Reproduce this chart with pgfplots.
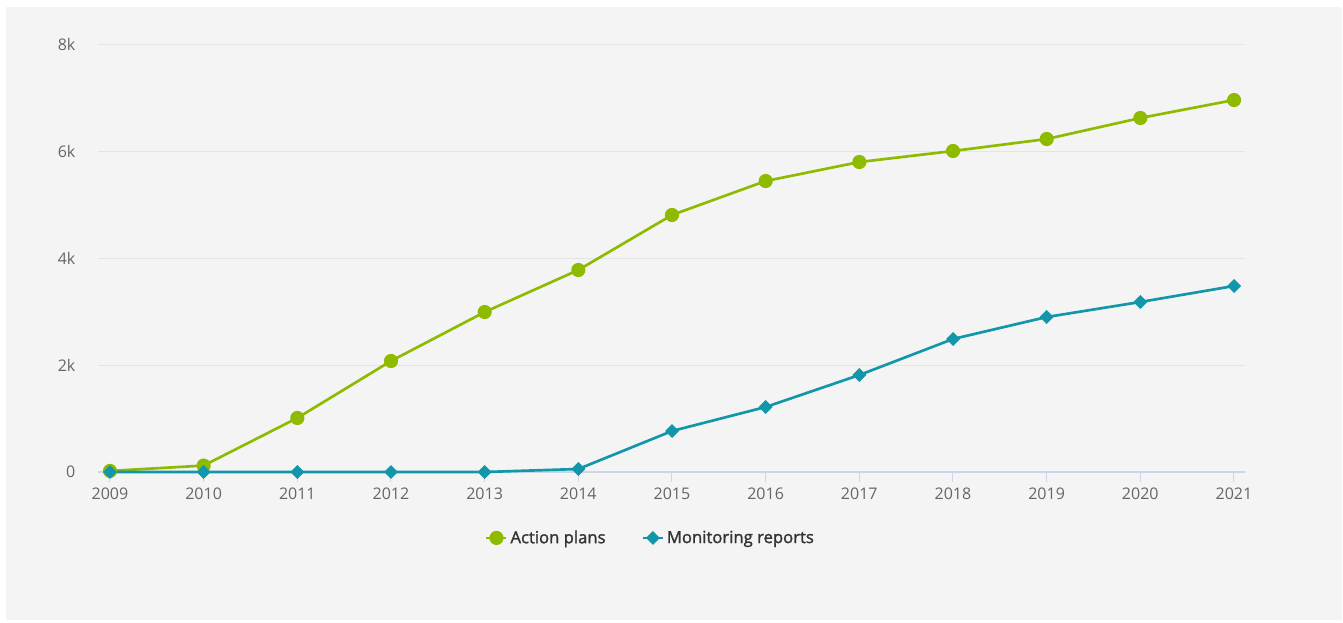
\documentclass[border=0pt]{standalone}
\usepackage{pgfplots}
\pgfplotsset{compat=1.18}
\usepackage{fontspec}
\setmainfont{Open Sans}
\newfontfamily\legfont{Open Sans}[FakeBold=1.5]
\definecolor{bgc}{RGB}{244,244,244}
\definecolor{gridc}{RGB}{228,228,228}
\definecolor{axisc}{RGB}{204,214,235}
\definecolor{tickc}{RGB}{102,102,102}
\definecolor{legc}{RGB}{51,51,51}
\definecolor{greenc}{RGB}{142,187,0}
\definecolor{tealc}{RGB}{18,150,170}
\begin{document}
\begin{tikzpicture}[x=0.75pt,y=0.75pt]
\path[use as bounding box] (0,0) rectangle (1343,622);
\fill[bgc] (6,2) rectangle (1342,615);
\begin{axis}[
  at={(98*0.75pt,150*0.75pt)}, anchor=south west,
  scale only axis, width=1147*0.75pt, height=428*0.75pt,
  xmin=2008.872, xmax=2021.117, ymin=0, ymax=8000,
  axis x line*=bottom, axis y line*=left,
  x axis line style={axisc, line width=1pt, -},
  y axis line style={draw=none},
  xtick={2009,...,2021},
  xticklabels={2009,2010,2011,2012,2013,2014,2015,2016,2017,2018,2019,2020,2021},
  ytick={0,2000,4000,6000,8000},
  yticklabels={0,2k,4k,6k,8k},
  ymajorgrids, grid style={gridc, line width=0.75pt},
  major x tick style={axisc, line width=0.75pt},
  tick align=outside, major tick length=7.5pt,
  ytick style={draw=none},
  xticklabel style={font=\fontsize{12}{14}\selectfont, text=tickc, yshift=-1pt},
  yticklabel style={font=\fontsize{12}{14}\selectfont, text=tickc, xshift=-6pt},
  scaled y ticks=false,
  clip=false,
  legend style={at={(0.482,-0.154)}, anchor=center, draw=none, fill=none,
    legend columns=2, font=\fontsize{12.5}{14}\legfont\color{legc},
    /tikz/every even column/.append style={column sep=25pt}},
  legend cell align=left,
  legend image code/.code={
    \draw[#1, line width=2pt] (0pt,0pt) -- (15pt,0pt);
    \draw[#1, mark repeat=1, mark phase=1] plot coordinates {(7.5pt,0pt)};
  },
]
\addplot[greenc, line width=2pt, mark=*, mark size=4.3pt, mark options={fill=greenc, draw=none}] coordinates {
(2009,20) (2010,120) (2011,1010) (2012,2075) (2013,2990) (2014,3776) (2015,4804) (2016,5439) (2017,5794) (2018,6000) (2019,6224) (2020,6617) (2021,6953)};
\addlegendentry{Action plans}
\addplot[tealc, line width=2pt, mark=square*, mark size=2.7pt, mark options={fill=tealc, draw=none, rotate=45}] coordinates {
(2009,0) (2010,0) (2011,0) (2012,0) (2013,0) (2014,56) (2015,766) (2016,1215) (2017,1813) (2018,2486) (2019,2897) (2020,3178) (2021,3477)};
\addlegendentry{Monitoring reports}
\end{axis}
\end{tikzpicture}
\end{document}
